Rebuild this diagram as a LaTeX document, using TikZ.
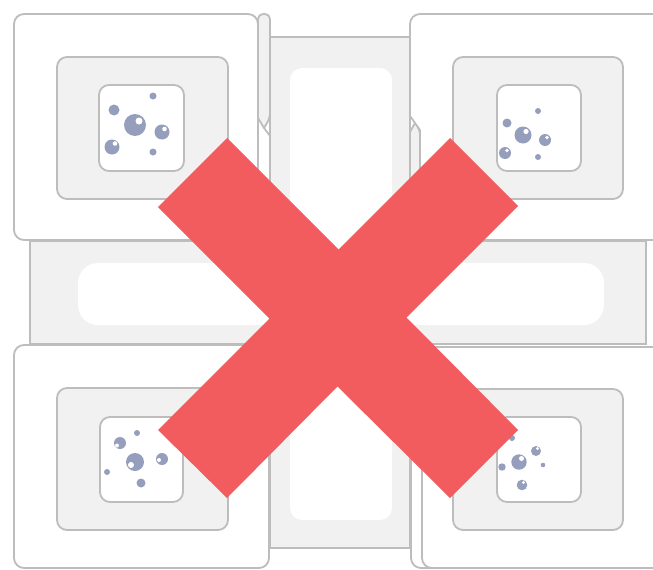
\documentclass[tikz,border=0pt]{standalone}
\usetikzlibrary{calc}
\definecolor{tileborder}{HTML}{BDBDBD}
\definecolor{panelfill}{HTML}{F1F1F1}
\definecolor{bubblecol}{HTML}{959FBD}
\definecolor{crossred}{HTML}{F25C5F}

% ── Bubble macros: #1 x, #2 y, #3 radius (#4,#5 shine centre, #6 shine radius) ──
\newcommand{\bubbledot}[3]{\fill[bubblecol] (#1,#2) circle (#3);}
\newcommand{\bubbleshine}[6]{%
    \fill[bubblecol] (#1,#2) circle (#3);
    \fill[white] (#4,#5) circle (#6);}

\begin{document}
\begin{tikzpicture}[
    x=1pt, y=-1pt,
    band/.style={fill=panelfill, draw=tileborder, line width=1.8pt},
    tile/.style={fill=white, draw=tileborder, line width=1.8pt, rounded corners=10pt},
    edge/.style={draw=tileborder, line width=1.8pt, line join=round},
    strip/.style={fill=panelfill, draw=tileborder, line width=1.8pt, line join=round},
    panel/.style={fill=panelfill, draw=tileborder, line width=1.8pt, rounded corners=10pt},
    window/.style={fill=white, draw=tileborder, line width=1.8pt, rounded corners=10pt},
    cross/.style={fill=crossred},
]
\useasboundingbox (0,0) rectangle (653,570);
\clip (0,0) rectangle (653,570);

% ════════════════════════════════════════════════════════════
% Grey cross-shaped band behind the tiles
% ════════════════════════════════════════════════════════════
\draw[band] (270,37) -- (410,37) -- (410,241) -- (646,241) -- (646,344)
    -- (410,344) -- (410,548) -- (270,548) -- (270,344) -- (30,344)
    -- (30,241) -- (270,241) -- cycle;
\fill[white, rounded corners=12pt] (290,68) rectangle (392,520);
\fill[white, rounded corners=20pt] (78,263) rectangle (604,325);

% ════════════════════════════════════════════════════════════
% TOP LEFT tile (with the one stacked behind it)
% ════════════════════════════════════════════════════════════
\draw[strip, rounded corners=5pt] (258,118) -- (258,14) -- (270,14) -- (270,118)
    [sharp corners] -- (264,128) -- cycle;
\draw[edge] (264,128) -- (270,136);
\draw[edge, rounded corners=8pt] (270,136) -- (270,240) -- (250,240);
\draw[tile] (14,14) rectangle (258,240);
\draw[panel] (57,57) rectangle (228,199);
\draw[window] (99,85) rectangle (184,171);
\bubbleshine{135}{125}{11}{139}{121}{3.5}
\bubbleshine{162}{132}{7.5}{164.5}{129}{2.3}
\bubbleshine{112}{147}{7.5}{115}{143.5}{2.3}
\bubbledot{114}{110}{5.5}
\bubbledot{153}{96}{3.5}
\bubbledot{153}{152}{3.5}

% ════════════════════════════════════════════════════════════
% TOP RIGHT tile
% ════════════════════════════════════════════════════════════
\draw[strip, rounded corners=5pt] (420,130) [sharp corners] -- (415,123) -- (410,132)
    [rounded corners=5pt] -- (410,240) -- (420,240) -- cycle;
\draw[tile] (410,116) -- (410,14) -- (670,14) -- (670,240) -- (420,240) -- (420,130);
\draw[edge] (410,116) -- (420,130);
\draw[panel] (453,57) rectangle (623,199);
\draw[window] (497,85) rectangle (581,171);
\bubbleshine{523}{135}{8.5}{526}{131.5}{2.6}
\bubbleshine{545}{140}{6}{547}{137.5}{1.8}
\bubbleshine{505}{153}{6}{507}{150.5}{1.8}
\bubbledot{507}{123}{4.5}
\bubbledot{538}{111}{3}
\bubbledot{538}{157}{3}

% ════════════════════════════════════════════════════════════
% BOTTOM LEFT tile
% ════════════════════════════════════════════════════════════
\draw[tile] (14,345) rectangle (269,568);
\draw[panel] (57,388) rectangle (228,530);
\draw[window] (100,417) rectangle (183,502);
\bubbleshine{135}{462}{9}{131}{465}{3}
\bubbleshine{162}{459}{6}{159}{460}{2}
\bubbleshine{120}{443}{6}{117}{445.5}{2}
\bubbledot{137}{433}{3}
\bubbledot{107}{472}{3}
\bubbledot{141}{483}{4.5}

% ════════════════════════════════════════════════════════════
% BOTTOM RIGHT tile (with the one stacked behind it)
% ════════════════════════════════════════════════════════════
\draw[tile] (411,350) rectangle (680,568);
\draw[tile] (422,347) rectangle (680,568);
\draw[panel] (453,389) rectangle (623,530);
\draw[window] (497,417) rectangle (581,502);
\bubbleshine{519}{462}{7.7}{521.5}{458.5}{2.5}
\bubbleshine{536}{451}{5}{537.5}{448.5}{1.6}
\bubbleshine{522}{485}{5.3}{523.5}{482.5}{1.7}
\bubbledot{502}{467}{3.7}
\bubbledot{543}{465}{2.3}
\bubbledot{512}{438}{3}

% ── Red cross on top ──
\fill[cross] (227,138) -- (338.5,249.5) -- (450,138) -- (518,206)
    -- (406.5,317.5) -- (518,430) -- (450,498) -- (337.5,386.5)
    -- (227,498) -- (158,430) -- (269.5,318.5) -- (158,207) -- cycle;

\end{tikzpicture}
\end{document}
